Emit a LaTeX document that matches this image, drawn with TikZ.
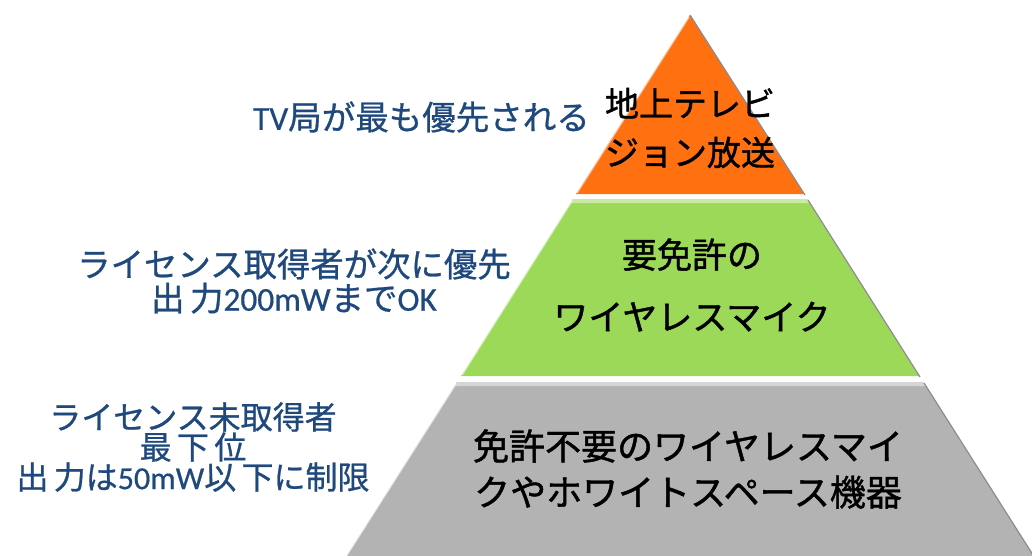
\documentclass[tikz,border=0pt]{standalone}
\usepackage{fontspec}
\newfontfamily\jp[FakeBold=0.8,AutoFakeBold=0.8]{Noto Sans CJK JP}
\newfontfamily\jpb[FakeBold=1.2]{Noto Sans CJK JP}
\newfontfamily\lat[FakeBold=0.5]{Carlito}
\definecolor{tierorange}{RGB}{255,112,16}
\definecolor{tiergreen}{RGB}{156,217,88}
\definecolor{tiergray}{RGB}{179,179,179}
\definecolor{labelblue}{RGB}{31,73,125}
\begin{document}
\begin{tikzpicture}[x=1pt,y=-1pt,
  tiertext/.style={text=black,align=center,inner sep=0pt},
  sidetext/.style={text=labelblue,align=center,inner sep=0pt},
  hilite/.style={draw=white,line width=1.6pt,opacity=0.55},
  shade/.style={draw=black!45,line width=1.2pt}]
\useasboundingbox (0,0) rectangle (1032,555);
\fill[white] (0,0) rectangle (1032,555);
% tiers
\fill[tierorange] (690,15) -- (804,194) -- (576,194) -- cycle;
\fill[tiergreen] (573,199) -- (807,199) -- (919,376) -- (461,376) -- cycle;
\fill[tiergray] (457,382) -- (923,382) -- (1040,566) -- (340,566) -- cycle;
% bevel highlights
\fill[tiergreen!55!white] (573,199) -- (807,199) -- (809.5,203) -- (570.5,203) -- cycle;
\fill[tiergray!55!white] (457,382) -- (923,382) -- (925.5,386) -- (454.5,386) -- cycle;
\draw[hilite] (689,17) -- (577,193);
\draw[hilite] (572,201) -- (462,375);
\draw[hilite] (456,384) -- (342,563);
\draw[shade] (690,15) -- (805,195);
\draw[shade] (808,200) -- (920,377);
\draw[shade] (924,383) -- (1040,566);
% tier texts
\node[tiertext,font=\jpb\fontsize{34}{49}\selectfont] (t1) at (690,128) {地上テレビ\\ジョン放送};
\node[tiertext,font=\jpb\fontsize{35}{62}\selectfont] (t2) at (692,285) {要免許の\\ワイヤレスマイク};
\node[tiertext,font=\jpb\fontsize{36}{46}\selectfont] (t3) at (688,469) {免許不要のワイヤレスマイ\\クやホワイトスペース機器};
% side labels
\node[sidetext,anchor=east,font=\jp\fontsize{33.5}{38}\selectfont] (s1) at (590,117) {{\lat TV}局が最も優先される};
\node[sidetext,font=\jp\fontsize{33.4}{34}\selectfont] (s2) at (294,281) {ライセンス取得者が次に優先\\出\,力{\lat 200mW}まで{\lat OK}};
\node[sidetext,font=\jp\fontsize{32}{30}\selectfont] (s3) at (193,447) {ライセンス未取得者\\最\,下\,位\\出\,力は{\lat 50mW}以\,下に制限};
\end{tikzpicture}
\end{document}
